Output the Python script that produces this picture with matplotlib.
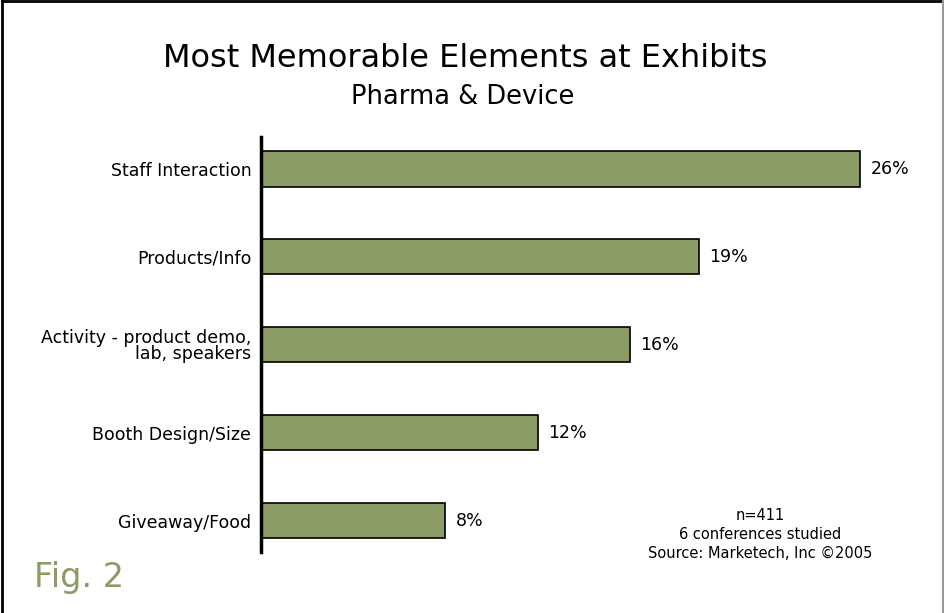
import matplotlib.pyplot as plt
from matplotlib.lines import Line2D

plt.rcParams['font.family'] = ['DejaVu Sans']

# survey results
categories = ["Staff Interaction", "Products/Info", "Activity - product demo,\nlab, speakers",
              "Booth Design/Size", "Giveaway/Food"]
values = [26, 19, 16, 12, 8]
notes = "n=411\n6 conferences studied\nSource: Marketech, Inc \u00a92005"

bar_color = "#8b9c66"

fig = plt.figure(figsize=(9.45, 6.13), dpi=100)
ax = fig.add_axes([0.2762, 0.0995, 0.683, 0.677])

pos = range(len(values))
ax.barh(pos, values, height=0.4, color=bar_color, edgecolor="black", linewidth=1.2)
ax.set_ylim(4.358, -0.364)
ax.set_xlim(0, 28)

for p, v in zip(pos, values):
    ax.text(v + 0.45, p, f"{v}%", va="center", ha="left", fontsize=12.5)

ax.set_yticks(list(pos))
ax.set_yticklabels(categories, fontsize=12.5, linespacing=0.88)
ax.tick_params(axis="y", length=0, pad=7)
ax.set_xticks([])
for s in ["top", "right", "bottom"]:
    ax.spines[s].set_visible(False)
ax.spines["left"].set_linewidth(2.5)

fig.text(0.492, 0.905, "Most Memorable Elements at Exhibits", ha="center", va="center", fontsize=23)
fig.text(0.49, 0.842, "Pharma & Device", ha="center", va="center", fontsize=18.5)
fig.text(0.804, 0.128, notes, ha="center", va="center", fontsize=10.5, linespacing=1.3)
fig.text(0.036, 0.042, "Fig. 2", ha="left", va="baseline", fontsize=24, color=bar_color)

# outer frame: black top/left, grey right
fig.add_artist(Line2D([0.002, 0.002], [0, 0.998], color="black", lw=2, transform=fig.transFigure))
fig.add_artist(Line2D([0.002, 0.998], [0.998, 0.998], color="black", lw=2, transform=fig.transFigure))
fig.add_artist(Line2D([0.998, 0.998], [0, 0.998], color="#999999", lw=1.5, transform=fig.transFigure))

fig.savefig("out.png", dpi=100)
